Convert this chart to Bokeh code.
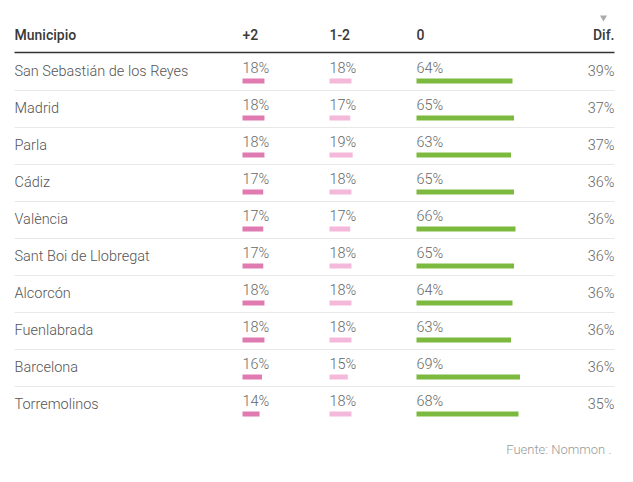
from bokeh.plotting import figure
from bokeh.models import Range1d, ColumnDataSource
from bokeh.core.properties import value
from bokeh.embed import file_html
from bokeh.resources import INLINE

municipios = ["San Sebastián de los Reyes", "Madrid", "Parla", "Cádiz", "València",
              "Sant Boi de Llobregat", "Alcorcón", "Fuenlabrada", "Barcelona", "Torremolinos"]
mas2 = [18, 18, 18, 17, 17, 17, 18, 18, 16, 14]
uno_dos = [18, 17, 19, 18, 17, 18, 18, 18, 15, 18]
cero = [64, 65, 63, 65, 66, 65, 64, 63, 69, 68]
dif = [39, 37, 37, 36, 36, 36, 36, 36, 36, 35]
headers = ["Municipio", "+2", "1-2", "0", "Dif."]
fuente = "Fuente: Nommon ."

W, H = 625, 474
p = figure(width=W, height=H, output_backend="svg", toolbar_location=None,
           x_range=Range1d(0, W), y_range=Range1d(H, 0), min_border=0)
p.axis.visible = False
p.grid.visible = False
p.outline_line_color = None

FONT = value("Roboto Light, Roboto")
HFONT = value("Roboto Medium, Roboto")
n = len(municipios)
x_name, x_p2, x_12, x_0, x_dif = 14, 242, 329, 416, 614
left, right = 14, 614
y0, pitch = 71, 37
rows = [y0 + pitch * i for i in range(n)]

# header
p.text(x=[x_name, x_p2, x_12, x_0], y=[34] * 4, text=headers[:4], text_font=HFONT,
       text_font_size="14px", text_color="#3a3a3a", text_baseline="middle")
p.text(x=[x_dif], y=[34], text=[headers[4]], text_font=HFONT, text_font_size="14px",
       text_color="#3a3a3a", text_baseline="middle", text_align="right")
p.scatter(x=[603], y=[17], marker="inverted_triangle", size=7, fill_color="#aaaaaa", line_color=None)
p.segment(x0=[left], x1=[right], y0=[52], y1=[52], line_color="#333333", line_width=1.5)

# separators
seps = [r + pitch / 2 + 0.5 for r in rows[:-1]]
p.segment(x0=[left] * len(seps), x1=[right] * len(seps), y0=seps, y1=seps,
          line_color="#e8e8e8", line_width=1)

src = ColumnDataSource(dict(
    name=municipios, y=rows, ylab=[r - 3.5 for r in rows], ybar=[r + 9.5 for r in rows],
    p2=mas2, p12=uno_dos, p0=cero,
    p2l=[f"{v}%" for v in mas2], p12l=[f"{v}%" for v in uno_dos], p0l=[f"{v}%" for v in cero],
    difl=[f"{v}%" for v in dif],
    p2r=[x_p2 + v * 1.22 for v in mas2], p12r=[x_12 + v * 1.22 for v in uno_dos],
    p0r=[x_0 + v * 1.5 for v in cero],
))

p.text(x=x_name, y="y", text="name", source=src, text_font=FONT, text_font_size="14.5px",
       text_color="#555555", text_baseline="middle")
for xc, col in [(x_p2, "p2l"), (x_12, "p12l"), (x_0, "p0l")]:
    p.text(x=xc, y="ylab", text=col, source=src, text_font=FONT, text_font_size="14.5px",
           text_color="#666666", text_baseline="middle")
p.text(x=x_dif, y="y", text="difl", source=src, text_font=FONT, text_font_size="14.5px",
       text_color="#666666", text_baseline="middle", text_align="right")

p.hbar(y="ybar", left=x_p2, right="p2r", height=5, source=src, fill_color="#e07bb1", line_color=None)
p.hbar(y="ybar", left=x_12, right="p12r", height=5, source=src, fill_color="#f4b8da", line_color=None)
p.hbar(y="ybar", left=x_0, right="p0r", height=5, source=src, fill_color="#7cb93f", line_color=None)

p.text(x=[611], y=[449], text=[fuente], text_font=FONT, text_font_size="13px",
       text_color="#9a9a9a", text_baseline="middle", text_align="right")

open("out.html", "w").write(file_html(p, INLINE))
